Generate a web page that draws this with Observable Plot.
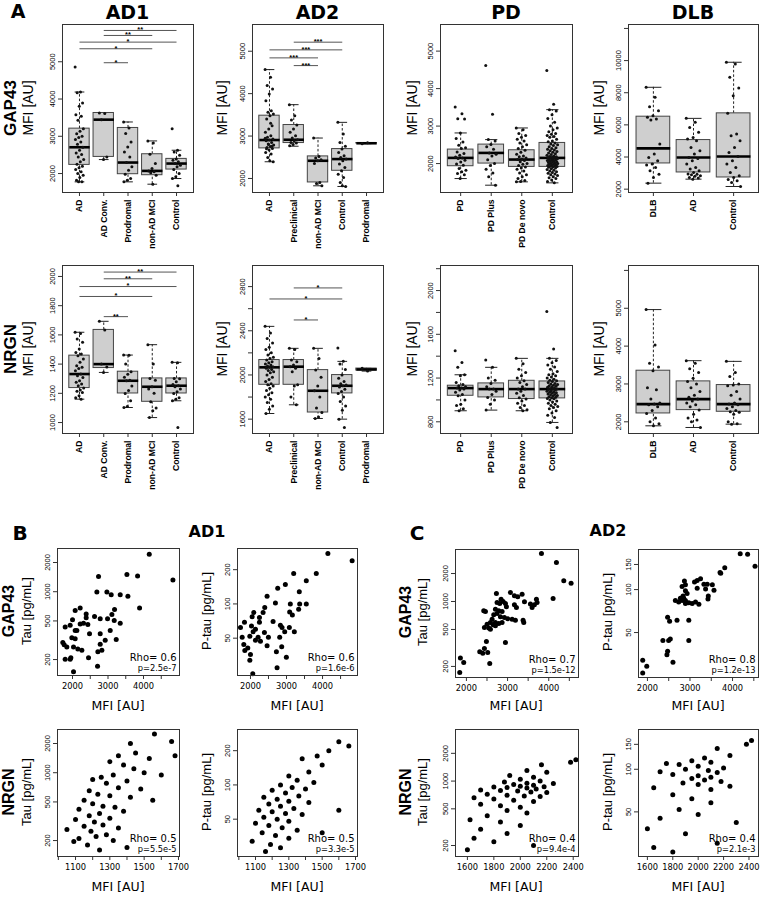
<!DOCTYPE html>
<html><head><meta charset="utf-8">
<script src="https://cdn.jsdelivr.net/npm/d3@7"></script>
<script src="https://cdn.jsdelivr.net/npm/@observablehq/plot@0.6"></script>
<style>
body{margin:0;background:#fff;}
#fig{position:relative;width:760px;height:897px;overflow:hidden;background:#fff;}
</style></head>
<body><div id="fig"></div>
<script>
// ---------------- DATA: panel A (boxplots) ----------------
const ad1Cats = ["AD","AD Conv.","Prodromal","non-AD MCI","Control"];
const ad2Cats = ["AD","Preclinical","non-AD MCI","Control","Prodromal"];
const pdCats  = ["PD","PD Plus","PD De novo","Control"];
const dlbCats = ["DLB","AD","Control"];

// whisker-low, Q1, median, Q3, whisker-high
const ad1GapStats = [[1777,2232,2705,3205,4188],[2375,2446,3446,3625,3625],[1777,1982,2295,3223,3384],[1714,1955,2071,2518,2875],[1866,2107,2268,2393,2625]];
const ad1GapPts = [
 [4858,4188,4170,3893,3804,3581,3536,3430,3205,3134,3070,3000,2965,2911,2848,2786,2705,2625,2554,2509,2446,2375,2313,2250,2196,2152,2107,2045,2000,1955,1893,1821,1777,1780],
 [3625,3610,3446,2446,2375],
 [3384,3223,3072,2848,2714,2580,2446,2295,2179,2089,1982,1866,1821,1777],
 [2875,2822,2518,2268,2134,2071,2045,2018,1955,1714],
 [3205,2625,2580,2491,2393,2357,2313,2268,2223,2179,2107,2000,1911,1866,1670]];
const ad1GapSig = [["AD Conv.","Control",5840,"**"],["AD Conv.","non-AD MCI",5706,"**"],["AD","Control",5527,"*"],["AD","non-AD MCI",5349,"*"],["AD Conv.","Prodromal",4974,"*"]];

const ad2GapStats = [[2394,2709,2906,3480,4567],[2760,2835,2913,3260,3740],[1827,1906,2417,2520,2953],[1811,2181,2457,2693,3323],[2820,2825,2830,2835,2840]];
const ad2GapPts = [
 [4567,4386,4189,4110,3992,3835,3598,3560,3520,3480,3402,3244,3165,3087,3008,2969,2929,2906,2890,2850,2811,2787,2756,2732,2709,2669,2614,2575,2496,2394,2420,2700,2760,2800,2950,3300],
 [3740,3480,3378,3260,3165,3087,3008,2953,2913,2890,2850,2835,2800,2770],
 [2953,2520,2480,2440,2417,2350,1906,1880,1827],
 [3323,3047,2850,2760,2693,2614,2535,2496,2457,2417,2339,2260,2181,2102,2024,1906,1811,1830],
 [2820,2840]];
const ad2GapSig = [["Preclinical","Control",5213,"***"],["AD","Control",5032,"***"],["AD","non-AD MCI",4843,"***"],["Preclinical","non-AD MCI",4661,"***"]];

const pdGapStats = [[1600,1929,2151,2373,2817],[1423,2000,2284,2506,2639],[1512,1911,2107,2355,2950],[1485,1911,2151,2550,3438]];
const pdGapPts = [
 [3509,3331,3198,3190,2817,2666,2577,2488,2420,2400,2311,2266,2222,2178,2150,2133,2089,2044,1990,1956,1867,1822,1780,1734,1700,1600],
 [4618,3314,2639,2600,2506,2450,2380,2284,2250,2200,2100,2000,1950,1850,1750,1650,1423],
 [2950,2900,2800,2750,2700,2650,2600,2550,2500,2450,2400,2355,2300,2250,2200,2180,2150,2120,2107,2080,2050,2000,1980,1950,1911,1880,1850,1800,1750,1700,1650,1600,1550,1520,1512],
 [4485,3580,3438,3400,3300,3200,3100,3000,2950,2900,2850,2800,2780,2750,2720,2700,2650,2600,2580,2550,2520,2500,2480,2450,2420,2400,2380,2360,2340,2320,2300,2280,2260,2240,2220,2200,2190,2180,2170,2160,2151,2140,2130,2120,2110,2100,2090,2080,2070,2060,2050,2040,2030,2020,2010,2000,1990,1980,1970,1960,1950,1940,1930,1920,1911,1900,1880,1860,1840,1820,1800,1780,1760,1740,1720,1700,1680,1650,1620,1600,1560,1520,1485]];

const dlbGapStats = [[2374,3600,4535,6509,8338],[2623,3039,3974,5055,6405],[2166,2727,4036,6717,9896]];
const dlbGapPts = [
 [8338,7715,7133,6883,6571,6468,6364,6301,4805,4182,3974,3766,3558,3500,3351,3143,2935,2727,2374],
 [6405,6156,5844,5533,5221,5117,5013,4598,4390,4182,3974,3900,3766,3558,3351,3247,3143,3039,2950,2935,2900,2831,2800,2727,2700,2623],
 [9896,9792,8961,8296,7818,6717,5429,5325,5013,4598,4286,4036,3766,3558,3351,3039,2831,2727,2600,2520,2416,2166]];

const ad1NrgStats = [[1160,1236,1332,1458,1618],[1343,1373,1400,1634,1693],[1103,1199,1286,1348,1462],[1034,1142,1245,1302,1533],[1149,1199,1252,1302,1412]];
const ad1NrgPts = [
 [1618,1610,1572,1549,1503,1480,1469,1458,1435,1412,1389,1378,1370,1355,1332,1320,1309,1286,1275,1263,1252,1236,1222,1215,1206,1183,1170,1160],
 [1693,1634,1400,1380,1343],
 [1462,1460,1400,1348,1330,1310,1290,1286,1250,1220,1199,1150,1110,1103],
 [1533,1400,1302,1290,1245,1230,1200,1142,1100,1080,1034],
 [1412,1410,1302,1300,1280,1260,1252,1245,1230,1210,1199,1170,1160,1149,966]];
const ad1NrgSig = [["AD Conv.","Control",2030,"**"],["AD Conv.","non-AD MCI",1984,"**"],["AD","Control",1931,"*"],["AD","non-AD MCI",1863,"*"],["AD Conv.","Prodromal",1725,"**"]];

const ad2NrgStats = [[1651,1911,2069,2135,2440],[1730,1911,2075,2135,2241],[1606,1660,1857,2044,2241],[1600,1833,1902,1999,2123],[2035,2040,2050,2058,2060]];
const ad2NrgPts = [
 [2440,2380,2330,2290,2250,2230,2200,2180,2160,2150,2135,2120,2110,2100,2090,2080,2075,2069,2060,2050,2040,2030,2020,2000,1980,1960,1940,1920,1911,1900,1880,1860,1840,1820,1800,1780,1750,1720,1690,1651],
 [2241,2230,2135,2120,2090,2075,2060,2030,1911,1900,1800,1730],
 [2241,2150,2044,1980,1900,1857,1800,1700,1660,1620,1606],
 [2244,2123,2100,2050,1999,1970,1940,1920,1910,1902,1890,1870,1850,1833,1800,1760,1720,1680,1600,1524],
 [2060,2035]];
const ad2NrgSig = [["Preclinical","Control",2788,"*"],["AD","Control",2688,"*"],["Preclinical","non-AD MCI",2498,"*"]];

const pdNrgStats = [[901,1038,1108,1130,1230],[907,1023,1099,1151,1298],[901,1008,1099,1175,1380],[794,1014,1099,1169,1380]];
const pdNrgPts = [
 [1450,1343,1298,1230,1220,1160,1140,1130,1120,1110,1108,1100,1090,1070,1050,1038,1000,960,950,920,901],
 [1365,1298,1200,1180,1151,1120,1100,1099,1080,1050,1023,1000,960,907],
 [1380,1330,1280,1250,1220,1200,1175,1160,1140,1120,1100,1099,1080,1060,1040,1020,1008,990,970,950,930,910,901],
 [1808,1466,1380,1360,1340,1320,1300,1280,1260,1240,1230,1220,1210,1200,1190,1180,1175,1169,1160,1150,1145,1140,1135,1130,1125,1120,1115,1110,1105,1100,1099,1095,1090,1085,1080,1075,1070,1065,1060,1055,1050,1045,1040,1035,1030,1025,1020,1014,1010,1000,990,980,970,960,950,940,930,920,900,880,860,840,794,748]];

const dlbNrgStats = [[1894,2221,2468,3350,4965],[1850,2309,2600,3068,3615],[1938,2265,2468,2971,3597]];
const dlbNrgPts = [
 [4965,4030,3550,3450,3350,2900,2850,2600,2500,2468,2450,2400,2300,2221,2100,2000,1950,1894],
 [3615,3550,3400,3300,3150,3068,3000,2900,2800,2700,2650,2600,2550,2500,2450,2400,2309,2200,2100,2050,2000,1850],
 [3597,3300,3200,3000,2971,2950,2800,2700,2600,2500,2468,2450,2400,2350,2300,2265,2250,2200,2000,1950,1938]];

// ---------------- DATA: panels B, C (scatter; [MFI, CSF value]) ----------------
const bGapTau = [[4162,2433],[4829,1318],[2733,1439],[3532,1507],[3833,1449],[2686,993],[2968,993],[3090,933],[3344,933],[3560,897],[3889,681],[2075,640],[2216,681],[2385,591],[2385,538],[2620,556],[3184,655],[3109,582],[2987,526],[2780,528],[3344,474],[3175,506],[2000,514],[2310,474],[2432,460],[2216,466],[1934,450],[1793,432],[2075,399],[2122,399],[2479,369],[2780,369],[3062,399],[1981,336],[2075,328],[3231,321],[2921,316],[1727,299],[1765,285],[1840,270],[2028,270],[2150,257],[2263,249],[2780,287],[2714,240],[2827,249],[1793,201],[1934,201],[1953,209],[2451,209],[2705,171],[2028,150]];
const bGapPtau = [[4148,278],[4821,239],[3199,185],[3826,185],[3549,160],[2968,148],[2756,137],[3355,128],[2461,117],[3106,100],[3365,100],[3549,100],[2692,102],[3337,90],[3088,85],[3162,80],[2396,93],[2350,84],[2092,84],[2046,77],[2249,76],[2249,69],[1834,69],[1723,62],[2028,64],[2138,60],[2627,70],[2830,65],[2876,62],[3079,62],[2950,57],[3217,57],[2387,56],[2074,57],[1982,52],[1770,51],[2212,51],[2277,47],[2498,51],[2811,51],[2138,48],[1815,44],[1926,41],[2461,43],[1843,39],[2000,36],[2719,38],[2867,42],[2996,34],[1982,32],[2738,27.5],[2064,24.4]];
const cGapTau = [[3823,3281],[4187,2624],[4365,1667],[4543,1574],[4106,1077],[2729,1219],[3069,1250],[3166,1150],[3247,1122],[3353,1200],[2842,1059],[2891,1000],[2810,951],[2745,975],[2948,951],[2972,877],[3166,921],[3215,862],[3410,991],[3555,940],[3652,921],[3717,975],[3701,1059],[3596,862],[2705,826],[2786,793],[2867,782],[2745,743],[2664,719],[2421,793],[2462,782],[2826,684],[2923,673],[3004,651],[3110,645],[3191,630],[2624,645],[2705,594],[3377,630],[3393,594],[2786,580],[2583,594],[2648,561],[2502,570],[2543,517],[2437,525],[2583,504],[2705,547],[2867,594],[2948,362],[2486,371],[2437,312],[2324,288],[2397,278],[2518,283],[2567,215],[1854,246],[1935,221],[1838,172]];
const cGapPtau = [[4180,178],[4354,177],[4528,146],[3817,142],[3722,130],[3706,132],[3248,119],[3169,116],[3106,113],[2869,115],[2814,105],[2893,108],[3169,102],[3327,109],[3406,109],[3525,108],[3564,99],[3366,101],[2893,98],[2932,94],[2837,90],[2656,84],[2735,82],[2814,84],[2893,84],[2972,81],[3051,80],[3130,82],[3209,79],[2893,80],[2774,87],[2853,87],[3422,86],[3430,90],[2474,64],[2521,60],[2695,61],[2972,61],[2972,44],[2537,45],[2498,44],[2363,44],[2474,37],[2458,35],[2600,31],[1889,32],[1984,29],[1889,26]];
const bNrgTau = [[1560,2500],[1660,2100],[1420,2000],[1680,1500],[1450,1600],[1350,1500],[1530,1400],[1300,1300],[1380,1200],[1440,1100],[1500,1000],[1600,950],[1320,950],[1250,900],[1200,850],[1400,820],[1280,780],[1350,700],[1480,680],[1180,650],[1230,600],[1300,580],[1420,560],[1550,520],[1150,520],[1200,480],[1260,450],[1330,440],[1120,420],[1380,400],[1240,380],[1180,360],[1300,340],[1100,330],[1210,310],[1260,290],[1150,280],[1350,270],[1050,260],[1190,250],[1280,230],[1220,220],[1120,210],[1320,200],[1090,195],[1170,180],[1400,170],[1240,160]];
const bNrgPtau = [[1600,240],[1660,220],[1540,200],[1470,180],[1380,170],[1500,150],[1420,130],[1300,120],[1350,110],[1450,105],[1250,100],[1320,95],[1400,92],[1200,90],[1280,85],[1360,80],[1150,78],[1230,75],[1300,72],[1420,70],[1180,68],[1250,65],[1330,62],[1120,60],[1200,58],[1280,56],[1380,55],[1150,52],[1230,50],[1300,48],[1100,46],[1180,44],[1260,42],[1350,40],[1140,38],[1220,36],[1300,34],[1080,32],[1190,30],[1250,28],[1500,38],[1600,60],[1160,26]];
const cNrgTau = [[2380,1600],[2420,1700],[2160,1500],[2050,1300],[2200,1250],[1920,1150],[2100,1100],[2000,1050],[2150,1000],[1880,980],[2050,950],[2250,940],[1950,920],[2100,900],[2000,880],[2180,870],[1800,860],[1900,850],[2050,840],[2120,820],[1700,800],[1850,790],[1980,780],[2080,760],[2200,750],[1750,720],[1900,700],[2030,690],[2150,680],[1650,660],[1800,640],[1950,620],[2100,600],[1700,560],[1850,540],[2000,520],[1900,480],[2050,450],[1750,420],[1620,380],[1850,360],[2000,330],[1700,300],[1900,270],[1650,240],[1800,220],[2100,200],[1600,180]];
const cNrgPtau = [[2420,160],[2380,150],[2150,140],[2250,125],[2050,120],[1950,115],[2100,112],[1750,110],[1850,108],[2000,105],[2200,102],[1900,100],[2080,98],[1700,96],[2150,95],[1800,92],[2000,90],[2100,88],[1950,86],[2050,84],[2180,82],[1880,80],[2000,78],[2250,76],[1650,74],[2100,72],[1800,66],[1950,62],[2100,58],[1850,52],[2000,48],[1700,45],[2300,42],[1600,38],[1900,35],[2150,30],[1650,28],[1800,26]];

const rhoTexts = ["Rho= 0.6","Rho= 0.6","Rho= 0.7","Rho= 0.8","Rho= 0.5","Rho= 0.5","Rho= 0.4","Rho= 0.4"];
const pTexts   = ["p=2.5e-7","p=1.6e-6","p=1.5e-12","p=1.2e-13","p=5.5e-5","p=3.3e-5","p=9.4e-4","p=2.1e-3"];

// ---------------- drawing ----------------
const fig = document.getElementById("fig");
const SANS = '"Liberation Sans", Arial, sans-serif';
const WIDE = '"DejaVu Sans", sans-serif';
function place(el, left, top){ el.style.position="absolute"; el.style.left=left+"px"; el.style.top=top+"px"; fig.appendChild(el); }
function label(text, cx, cy, size, bold, rot, family){
  const d = document.createElement("div");
  d.textContent = text;
  d.style.cssText = `position:absolute;left:${cx}px;top:${cy}px;transform:translate(-50%,-50%) rotate(${rot||0}deg);font-family:${family||SANS};font-size:${size}px;font-weight:${bold?"bold":"normal"};white-space:nowrap;line-height:1;color:#000;`;
  fig.appendChild(d);
}
function jit(j){ return ((j*0.61803398875)%1 - 0.5)*0.36; }

function boxPanel(cats, stats, pts, yDomain, yTicks, yLabels, sig, fx0, fx1, fy0, fy1){
  const n = cats.length, pad = 0.5 + 0.04*n, hw = 0.42, cw = 0.2;
  const mL = 40, mR = 3, mT = 3, mB = 70;
  const boxes = cats.map((c,i)=>({i:i+1, c, lo:stats[i][0], q1:stats[i][1], med:stats[i][2], q3:stats[i][3], hi:stats[i][4]}));
  const dots = cats.flatMap((c,i)=>pts[i].map((v,j)=>({x:i+1+jit(j), y:v})));
  const sg = sig.map(s=>({a:cats.indexOf(s[0])+1, b:cats.indexOf(s[1])+1, v:s[2], t:s[3]}));
  const svg = Plot.plot({
    width: fx1-fx0+mL+mR, height: fy1-fy0+mT+mB,
    marginLeft:mL, marginRight:mR, marginTop:mT, marginBottom:mB,
    x:{domain:[1-pad, n+pad], axis:null},
    y:{domain:yDomain, axis:null},
    style:{background:"transparent", overflow:"visible", fontFamily:SANS, color:"#000"},
    marks:[
      Plot.ruleX(boxes, {x:"i", y1:"q3", y2:"hi", stroke:"#222", strokeWidth:1, strokeDasharray:"2.5,2"}),
      Plot.ruleX(boxes, {x:"i", y1:"lo", y2:"q1", stroke:"#222", strokeWidth:1, strokeDasharray:"2.5,2"}),
      Plot.link(boxes, {x1:d=>d.i-cw, x2:d=>d.i+cw, y1:"hi", y2:"hi", stroke:"#222", strokeWidth:1}),
      Plot.link(boxes, {x1:d=>d.i-cw, x2:d=>d.i+cw, y1:"lo", y2:"lo", stroke:"#222", strokeWidth:1}),
      Plot.rect(boxes, {x1:d=>d.i-hw, x2:d=>d.i+hw, y1:"q1", y2:"q3", fill:"#cfcfcf", stroke:"#444", strokeWidth:1}),
      Plot.link(boxes, {x1:d=>d.i-hw, x2:d=>d.i+hw, y1:"med", y2:"med", stroke:"#000", strokeWidth:2.6}),
      Plot.dot(dots, {x:"x", y:"y", r:1.5, fill:"#111", stroke:null}),
      Plot.link(sg, {x1:"a", x2:"b", y1:"v", y2:"v", stroke:"#555", strokeWidth:1}),
      Plot.text(sg, {x:d=>(d.a+d.b)/2, y:"v", text:"t", dy:-0.5, fontSize:7.5, fontWeight:"bold", lineAnchor:"middle"}),
      Plot.frame({stroke:"#333", strokeWidth:1}),
      Plot.axisY(yTicks, {anchor:"left", tickSize:4, tickFormat:()=>"", label:null, stroke:"#333"}),
      Plot.text(yLabels, {y:d=>d, text:d=>String(d), frameAnchor:"left", dx:-8, rotate:-90, textAnchor:"middle", lineAnchor:"bottom", fontSize:7.5}),
      Plot.axisX(boxes.map(d=>d.i), {anchor:"bottom", tickSize:4, tickFormat:()=>"", label:null, stroke:"#333"}),
      Plot.text(boxes, {x:"i", text:"c", frameAnchor:"bottom", dy:7, rotate:-90, textAnchor:"end", lineAnchor:"middle", fontSize:8.6, fontWeight:"bold"})
    ]
  });
  place(svg, fx0-mL, fy0-mT);
}

function scatterPanel(pts, xDomain, xTicks, xLabels, yDomain, yTicks, rho, p, fx0, fx1, fy0, fy1){
  const mL = 30, mR = 3, mT = 3, mB = 22;
  const svg = Plot.plot({
    width: fx1-fx0+mL+mR, height: fy1-fy0+mT+mB,
    marginLeft:mL, marginRight:mR, marginTop:mT, marginBottom:mB,
    x:{domain:xDomain, axis:null},
    y:{type:"log", domain:yDomain, axis:null},
    style:{background:"transparent", overflow:"visible", fontFamily:SANS, color:"#000"},
    marks:[
      Plot.dot(pts, {x:d=>d[0], y:d=>d[1], r:2.5, fill:"#000", stroke:null}),
      Plot.frame({stroke:"#333", strokeWidth:1}),
      Plot.axisY(yTicks, {anchor:"left", tickSize:4, tickFormat:()=>"", label:null, stroke:"#333"}),
      Plot.text(yTicks, {y:d=>d, text:d=>String(d), frameAnchor:"left", dx:-8, rotate:-90, textAnchor:"middle", lineAnchor:"bottom", fontSize:7.5}),
      Plot.axisX(xTicks, {anchor:"bottom", tickSize:4, tickFormat:()=>"", label:null, stroke:"#333"}),
      Plot.text(xLabels, {x:d=>d, text:d=>String(d), frameAnchor:"bottom", dy:8, lineAnchor:"top", fontSize:8.3, fontFamily:WIDE}),
      Plot.text([rho], {text:d=>d, frameAnchor:"bottom-right", dx:-3, dy:-18, textAnchor:"end", lineAnchor:"middle", fontSize:10, fontFamily:WIDE}),
      Plot.text([p], {text:d=>d, frameAnchor:"bottom-right", dx:-3, dy:-7, textAnchor:"end", lineAnchor:"middle", fontSize:8.3, fontFamily:WIDE})
    ]
  });
  place(svg, fx0-mL, fy0-mT);
}

// Panel A
const colX = [[62,193],[252,383],[440,572],[628,758]];
const r1 = [24,192], r2 = [265,433];
boxPanel(ad1Cats, ad1GapStats, ad1GapPts, [1491,6000], [2000,3000,4000,5000], [2000,3000,4000,5000], ad1GapSig, ...colX[0], ...r1);
boxPanel(ad2Cats, ad2GapStats, ad2GapPts, [1669,5630], [2000,3000,4000,5000], [2000,3000,4000,5000], ad2GapSig, ...colX[1], ...r1);
boxPanel(pdCats, pdGapStats, pdGapPts, [1228,5710], [2000,3000,4000,5000], [2000,3000,4000,5000], [], ...colX[2], ...r1);
boxPanel(dlbCats, dlbGapStats, dlbGapPts, [1792,12245], [2000,4000,6000,8000,10000,12000], [2000,4000,6000,8000,10000], [], ...colX[3], ...r1);
boxPanel(ad1Cats, ad1NrgStats, ad1NrgPts, [925,2075], [1000,1200,1400,1600,1800,2000], [1000,1200,1400,1600,1800,2000], ad1NrgSig, ...colX[0], ...r2);
boxPanel(ad2Cats, ad2NrgStats, ad2NrgPts, [1470,2991], [1600,1800,2000,2200,2400,2600,2800], [1600,2000,2400,2800], ad2NrgSig, ...colX[1], ...r2);
boxPanel(pdCats, pdNrgStats, pdNrgPts, [693,2229], [800,1000,1200,1400,1600,1800,2000,2200], [800,1200,1600,2000], [], ...colX[2], ...r2);
boxPanel(dlbCats, dlbNrgStats, dlbNrgPts, [1691,6130], [2000,3000,4000,5000,6000], [2000,3000,4000,5000], [], ...colX[3], ...r2);

label("A", 18, 11, 19, true, 0, WIDE);
label("AD1", 127.5, 12, 19, true, 0, WIDE);
label("AD2", 317.5, 12, 19, true, 0, WIDE);
label("PD", 506, 12, 19, true, 0, WIDE);
label("DLB", 693, 12, 19, true, 0, WIDE);
label("GAP43", 9.5, 108, 17, true, -90);
label("MFI [AU]", 28, 108, 14, false, -90);
label("MFI [AU]", 222, 108, 14, false, -90);
label("MFI [AU]", 412, 108, 14, false, -90);
label("MFI [AU]", 599, 108, 14, false, -90);
label("NRGN", 9.5, 349, 17, true, -90);
label("MFI [AU]", 28, 349, 14, false, -90);
label("MFI [AU]", 222, 349, 14, false, -90);
label("MFI [AU]", 412, 349, 14, false, -90);
label("MFI [AU]", 599, 349, 14, false, -90);

// Panels B, C
const sc = [[57,179],[237,357],[455,578],[638,758]];
const s1 = [548,675], s2 = [729,856];
const gTicks = [2000,2500,3000,3500,4000,4500], gLab = [2000,3000,4000];
scatterPanel(bGapTau, [1577,5014], gTicks, gLab, [137,2788], [200,500,1000,2000], rhoTexts[0], pTexts[0], ...sc[0], ...s1);
scatterPanel(bGapPtau, [1640,4970], gTicks, gLab, [23.5,307], [50,100,200], rhoTexts[1], pTexts[1], ...sc[1], ...s1);
scatterPanel(cGapTau, [1735,4723], gTicks, gLab, [152,3627], [200,500,1000,2000], rhoTexts[2], pTexts[2], ...sc[2], 549, 677);
scatterPanel(cGapPtau, [1790,4610], gTicks, gLab, [24.2,191], [50,100,150], rhoTexts[3], pTexts[3], ...sc[3], 549, 677);
const bnT = [1000,1100,1200,1300,1400,1500,1600,1700], bnL = [1100,1300,1500,1700];
const cnT = [1600,1800,2000,2200,2400], cnL = [1600,1800,2000,2200,2400];
scatterPanel(bNrgTau, [995,1706], bnT, bnL, [137,2788], [200,500,1000,2000], rhoTexts[4], pTexts[4], ...sc[0], ...s2);
scatterPanel(bNrgPtau, [992,1712], bnT, bnL, [23.5,307], [50,100,200], rhoTexts[5], pTexts[5], ...sc[1], ...s2);
scatterPanel(cNrgTau, [1510,2440], cnT, cnL, [152,3627], [200,500,1000,2000], rhoTexts[6], pTexts[6], ...sc[2], ...s2);
scatterPanel(cNrgPtau, [1530,2475], cnT, cnL, [24.2,191], [50,100,150], rhoTexts[7], pTexts[7], ...sc[3], ...s2);

label("B", 20, 533, 20, true, 0, WIDE);
label("C", 417, 533, 20, true, 0, WIDE);
label("AD1", 207, 532, 16, true, 0, WIDE);
label("AD2", 608, 531, 16, true, 0, WIDE);
label("GAP43", 9, 611, 16, true, -90);
label("Tau [pg/mL]", 26, 611, 13, false, -90);
label("P-tau [pg/mL]", 206, 611, 13, false, -90);
label("GAP43", 406, 612, 16, true, -90);
label("Tau [pg/mL]", 422, 612, 13, false, -90);
label("P-tau [pg/mL]", 607, 612, 13, false, -90);
label("NRGN", 9, 792, 16, true, -90);
label("Tau [pg/mL]", 26, 792, 13, false, -90);
label("P-tau [pg/mL]", 206, 792, 13, false, -90);
label("NRGN", 406, 792, 16, true, -90);
label("Tau [pg/mL]", 422, 792, 13, false, -90);
label("P-tau [pg/mL]", 607, 792, 13, false, -90);
[[118,706],[297,706],[516,706],[698,706],[118,887],[297,887],[516,887],[698,887]].forEach(([x,y])=>label("MFI [AU]", x, y, 12.5, false, 0, WIDE));
</script></body></html>
